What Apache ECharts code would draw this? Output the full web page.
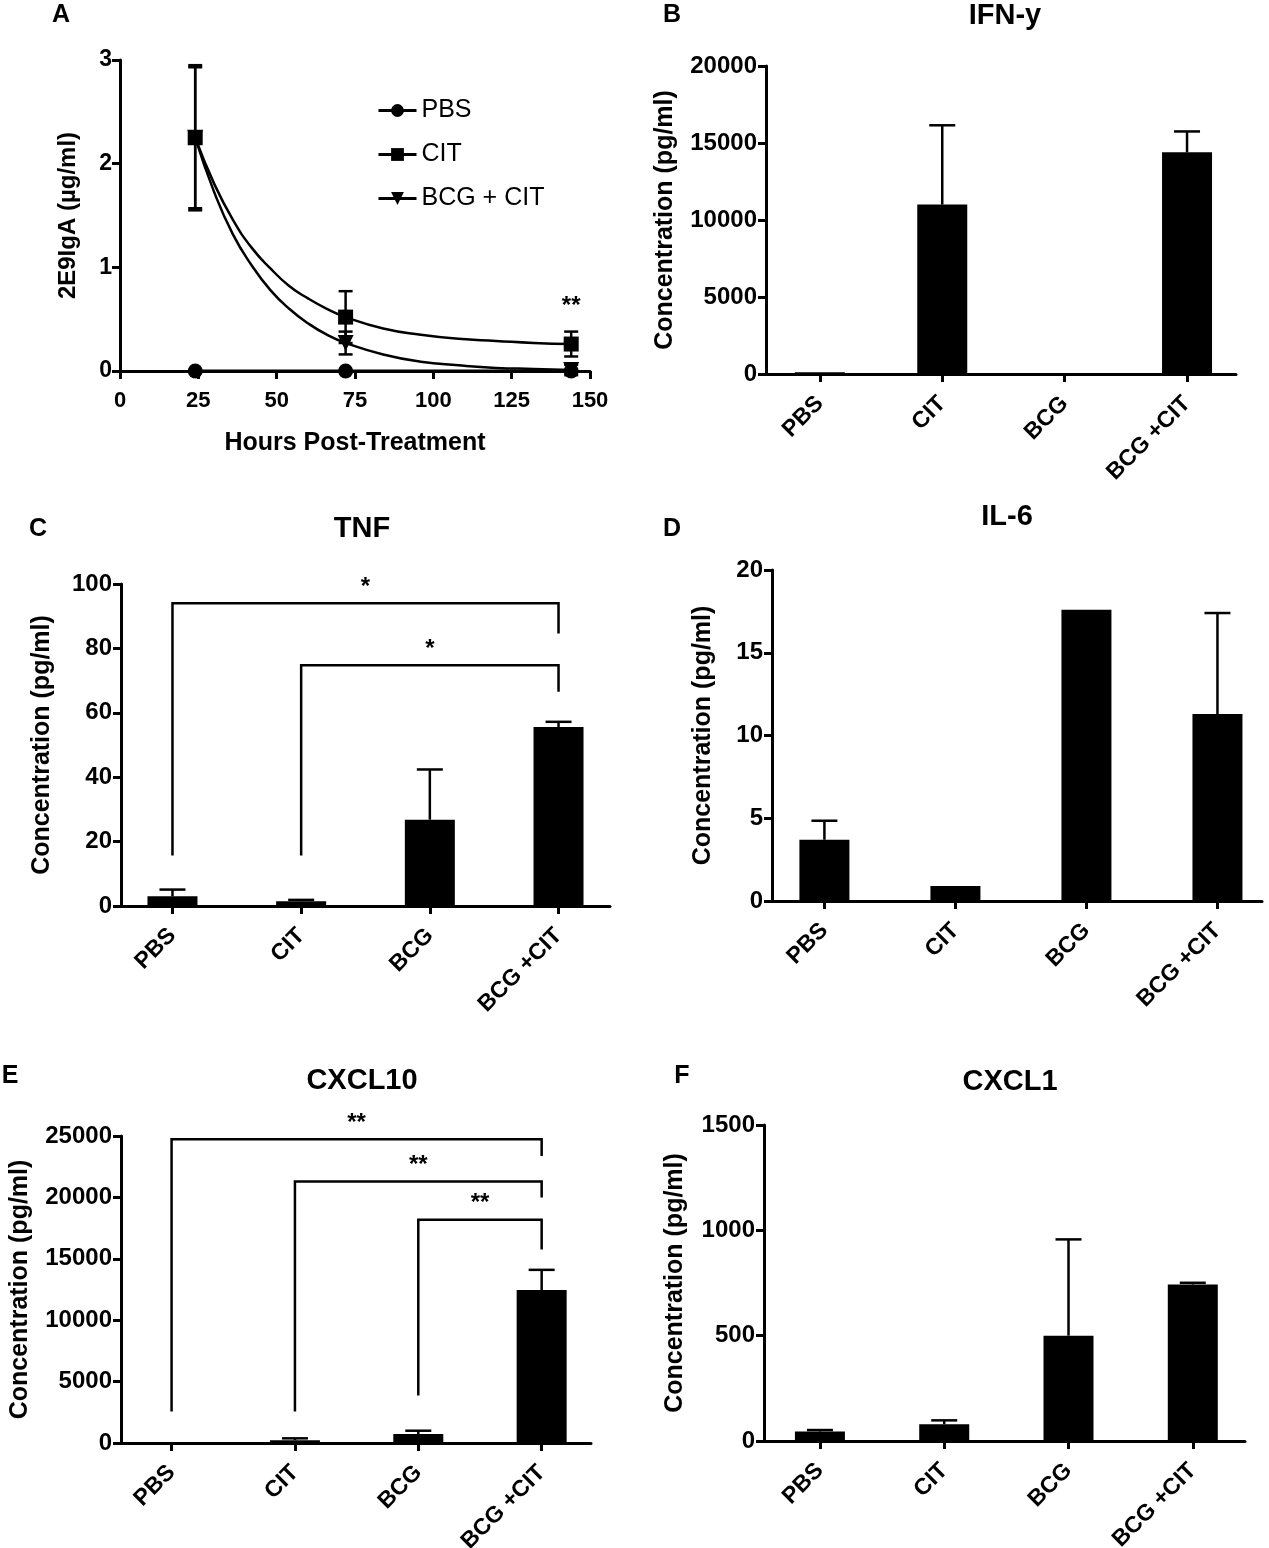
<!DOCTYPE html>
<html lang="en">
<head>
<meta charset="UTF-8">
<title>Cytokines after CIT</title>
<script src="https://cdn.jsdelivr.net/npm/echarts@6/dist/echarts.min.js"></script>
<style>html,body{margin:0;padding:0;background:#fff;}</style>
</head>
<body>
<div id="main" style="width:1269px;height:1548px;"></div>
<script>
var FONT = '"Liberation Sans", Arial, Helvetica, sans-serif';

// ---- panel A: 2E9IgA over time ----
var hours = [24, 72, 144];
var pbsIgA = [0, 0, 0];
var citIgA = [2.25, 0.52, 0.26];
var citIgAErr = [0.68, 0.25, 0.12];
var bcgCitIgA = [2.25, 0.27, 0.01];
var bcgCitIgAErr = [0.70, 0.11, 0.05];
// decay fits
var fitHours = [24, 30, 36, 42, 48, 54, 60, 66, 72, 84, 96, 108, 120, 132, 144];
var citFit = [2.25, 1.81, 1.46, 1.19, 0.99, 0.82, 0.70, 0.60, 0.52, 0.41, 0.35, 0.31, 0.29, 0.27, 0.26];
var bcgCitFit = [2.25, 1.73, 1.32, 1.02, 0.78, 0.60, 0.46, 0.35, 0.27, 0.16, 0.09, 0.055, 0.03, 0.02, 0.01];
var sigA = [[144, 0.62]];
var sigAText = ['**'];

// ---- panels B-F: cytokines ----
var groups = ['PBS', 'CIT', 'BCG', 'BCG +CIT'];
var ifng = [120, 11000, 0, 14400];
var ifngErr = [0, 5150, 0, 1350];
var tnf = [3.0, 1.5, 26.8, 55.6];
var tnfErr = [2.1, 0.4, 15.6, 1.6];
var il6 = [3.7, 0.9, 17.6, 11.3];
var il6Err = [1.15, 0, 0, 6.1];
var cxcl10 = [20, 230, 730, 12450];
var cxcl10Err = [0, 150, 270, 1650];
var cxcl1 = [45, 80, 500, 743];
var cxcl1Err = [7, 18, 457, 8];

// brackets: [from, to, top, left leg end, right leg end]
var tnfSig = [[0, 3, 94, 15.7, 84.6], [1, 3, 74.8, 15.7, 66.5]];
var tnfStars = ['*', '*'];
var cxcl10Sig = [[0, 3, 24730, 2575, 23375], [1, 3, 21290, 2575, 19990], [2, 3, 18180, 3875, 15760]];
var cxcl10Stars = ['**', '**', '**'];

var myChart = echarts.init(document.getElementById('main'));

var axisLineStyle = {color: '#000', width: 3};
var tickLabel = {color: '#000', fontFamily: FONT, fontWeight: 'bold', fontSize: 23,
    formatter: function (v) { return String(v); }};
var axisName = {color: '#000', fontFamily: FONT, fontWeight: 'bold', fontSize: 25};

var grids = [
    {left: 120, top: 60, width: 470, height: 311},
    {left: 766, top: 66, width: 470, height: 308},
    {left: 121, top: 584, width: 489, height: 322},
    {left: 772, top: 570, width: 490, height: 331},
    {left: 121, top: 1136, width: 470, height: 307},
    {left: 764, top: 1125, width: 481, height: 316}
].map(function (g) { g.outerBoundsMode = 'none'; g.containLabel = false; return g; });

function errRender(capHalf, both) {
    return function (params, api) {
        var x = api.value(0), lo = api.value(1), hi = api.value(2);
        if (hi <= lo) return null;
        var pLo = api.coord([x, lo]), pHi = api.coord([x, hi]);
        var st = {stroke: '#000', lineWidth: 2.5};
        var kids = [
            {type: 'line', shape: {x1: pLo[0], y1: pLo[1], x2: pHi[0], y2: pHi[1]}, style: st},
            {type: 'line', shape: {x1: pHi[0] - capHalf, y1: pHi[1], x2: pHi[0] + capHalf, y2: pHi[1]}, style: st}
        ];
        if (both) {
            kids.push({type: 'line', shape: {x1: pLo[0] - capHalf, y1: pLo[1], x2: pLo[0] + capHalf, y2: pLo[1]}, style: st});
        }
        return {type: 'group', children: kids};
    };
}

function bracketRender(sig, stars) {
    return function (params, api) {
        var s = sig[params.dataIndex];
        var a = api.coord([s[0], s[3]]), b = api.coord([s[0], s[2]]);
        var c = api.coord([s[1], s[2]]), d = api.coord([s[1], s[4]]);
        return {type: 'group', children: [
            {type: 'polyline', shape: {points: [a, b, c, d]}, style: {stroke: '#000', fill: 'none', lineWidth: 2.5}},
            {type: 'text', x: (b[0] + c[0]) / 2, y: b[1] - 16,
             style: {text: stars[params.dataIndex], fill: '#000', font: 'bold 24px ' + FONT, align: 'center', verticalAlign: 'middle'}}
        ]};
    };
}

function textRender(texts) {
    return function (params, api) {
        var p = api.coord([api.value(0), api.value(1)]);
        return {type: 'text', x: p[0], y: p[1],
            style: {text: texts[params.dataIndex], fill: '#000', font: 'bold 24px ' + FONT, align: 'center', verticalAlign: 'middle'}};
    };
}

var xAxes = [], yAxes = [], series = [];

// panel A axes
xAxes.push({
    gridIndex: 0, type: 'value', min: 0, max: 150, interval: 25,
    name: 'Hours Post-Treatment', nameLocation: 'middle', nameGap: 60, nameTextStyle: axisName,
    axisLine: {show: true, onZero: false, lineStyle: axisLineStyle},
    axisTick: {show: true, length: 8, lineStyle: axisLineStyle},
    axisLabel: Object.assign({}, tickLabel, {margin: 19, fontSize: 22}),
    splitLine: {show: false}
});
yAxes.push({
    gridIndex: 0, type: 'value', min: 0, max: 3, interval: 1,
    name: '2E9IgA (µg/ml)', nameLocation: 'middle', nameGap: 40, nameTextStyle: Object.assign({}, axisName, {fontSize: 24}),
    axisLine: {show: true, onZero: false, lineStyle: axisLineStyle},
    axisTick: {show: true, length: 8, lineStyle: axisLineStyle},
    axisLabel: Object.assign({}, tickLabel, {margin: 8}),
    splitLine: {show: false}
});

function pairs(xs, ys) { return xs.map(function (x, i) { return [x, ys[i]]; }); }
function errRows(xs, ys, es, both) {
    return xs.map(function (x, i) { return [x, both ? ys[i] - es[i] : ys[i], ys[i] + es[i]]; });
}

var downTri = 'path://M0,0 L10,0 L5,9 Z';
series.push(
    {name: 'CIT fit', type: 'line', xAxisIndex: 0, yAxisIndex: 0, data: pairs(fitHours, citFit), smooth: true,
     symbol: 'none', lineStyle: {color: '#000', width: 2.5}, z: 2, silent: true},
    {name: 'BCG + CIT fit', type: 'line', xAxisIndex: 0, yAxisIndex: 0, data: pairs(fitHours, bcgCitFit), smooth: true,
     symbol: 'none', lineStyle: {color: '#000', width: 2.5}, z: 2, silent: true},
    {name: 'CIT err', type: 'custom', xAxisIndex: 0, yAxisIndex: 0, renderItem: errRender(7, true),
     data: errRows(hours, citIgA, citIgAErr, true), z: 3, silent: true},
    {name: 'BCG + CIT err', type: 'custom', xAxisIndex: 0, yAxisIndex: 0, renderItem: errRender(7, true),
     data: errRows(hours, bcgCitIgA, bcgCitIgAErr, true), z: 3, silent: true},
    {name: 'PBS', type: 'line', xAxisIndex: 0, yAxisIndex: 0, data: pairs(hours, pbsIgA),
     symbol: 'circle', symbolSize: 15, itemStyle: {color: '#000'}, lineStyle: {color: '#000', width: 3}, z: 4},
    {name: 'BCG + CIT', type: 'line', xAxisIndex: 0, yAxisIndex: 0, data: pairs(hours, bcgCitIgA),
     symbol: downTri, symbolSize: 16, itemStyle: {color: '#000'}, lineStyle: {color: '#000', width: 3, opacity: 0}, z: 5},
    {name: 'CIT', type: 'line', xAxisIndex: 0, yAxisIndex: 0, data: pairs(hours, citIgA),
     symbol: 'rect', symbolSize: 15, itemStyle: {color: '#000'}, lineStyle: {color: '#000', width: 3, opacity: 0}, z: 6},
    {name: 'sigA', type: 'custom', xAxisIndex: 0, yAxisIndex: 0, renderItem: textRender(sigAText),
     data: sigA, clip: false, z: 7, silent: true}
);

// bar panels
var barPanels = [
    {values: ifng, errs: ifngErr, max: 20000, step: 5000, xMin: -0.44, xMax: 3.4, nameGap: 88},
    {values: tnf, errs: tnfErr, max: 100, step: 20, xMin: -0.40, xMax: 3.4, nameGap: 66, sig: tnfSig, stars: tnfStars},
    {values: il6, errs: il6Err, max: 20, step: 5, xMin: -0.40, xMax: 3.34, nameGap: 56},
    {values: cxcl10, errs: cxcl10Err, max: 25000, step: 5000, xMin: -0.41, xMax: 3.4, nameGap: 88, sig: cxcl10Sig, stars: cxcl10Stars},
    {values: cxcl1, errs: cxcl1Err, max: 1500, step: 500, xMin: -0.45, xMax: 3.42, nameGap: 76}
];
var idxs = [0, 1, 2, 3];

barPanels.forEach(function (p, k) {
    var g = k + 1;
    xAxes.push({
        gridIndex: g, type: 'value', min: p.xMin, max: p.xMax,
        axisLine: {show: true, onZero: false, lineStyle: axisLineStyle},
        axisTick: {show: true, length: 8, customValues: idxs, lineStyle: axisLineStyle},
        axisLabel: Object.assign({}, tickLabel, {customValues: idxs, rotate: 45, margin: 26, fontSize: 23,
            formatter: function (v) { return groups[Math.round(v)]; }}),
        splitLine: {show: false}
    });
    yAxes.push({
        gridIndex: g, type: 'value', min: 0, max: p.max, interval: p.step,
        name: 'Concentration (pg/ml)', nameLocation: 'middle', nameGap: p.nameGap, nameTextStyle: axisName,
        axisLine: {show: true, onZero: false, lineStyle: axisLineStyle},
        axisTick: {show: true, length: 8, lineStyle: axisLineStyle},
        axisLabel: Object.assign({}, tickLabel, {margin: 9, fontSize: 24}),
        splitLine: {show: false}
    });
    series.push({
        type: 'bar', xAxisIndex: g, yAxisIndex: g, barWidth: 50,
        data: pairs(idxs, p.values), itemStyle: {color: '#000'}, silent: true
    });
    series.push({
        type: 'custom', xAxisIndex: g, yAxisIndex: g, renderItem: errRender(13, false),
        data: errRows(idxs, p.values, p.errs, false), z: 3, silent: true
    });
    if (p.sig) {
        series.push({
            type: 'custom', xAxisIndex: g, yAxisIndex: g, renderItem: bracketRender(p.sig, p.stars),
            data: p.sig.map(function (s) { return [s[0], s[2]]; }), clip: false, z: 4, silent: true
        });
    }
});

function ttl(text, x, y, size) {
    return {text: text, left: x, top: y, textAlign: 'center', padding: 0,
        textStyle: {color: '#000', fontFamily: FONT, fontWeight: 'bold', fontSize: size}};
}

var option = {
    animation: false,
    backgroundColor: '#fff',
    title: [
        ttl('A', 61, 3, 25), ttl('B', 672, 3, 25), ttl('C', 38, 517, 25),
        ttl('D', 672, 517, 25), ttl('E', 10, 1064, 25), ttl('F', 682, 1064, 25),
        ttl('IFN-y', 1005, 1, 29), ttl('TNF', 362, 514, 29), ttl('IL-6', 1007, 502, 29),
        ttl('CXCL10', 362, 1066, 29), ttl('CXCL1', 1010, 1067, 29)
    ],
    legend: {
        data: ['PBS', 'CIT', 'BCG + CIT'],
        orient: 'vertical', left: 372, top: 93, itemGap: 19, itemWidth: 38, itemHeight: 16,
        selectedMode: false,
        textStyle: {color: '#000', fontFamily: FONT, fontSize: 25},
        itemStyle: {color: '#000', borderWidth: 0},
        lineStyle: {color: '#000', width: 3, opacity: 1}
    },
    grid: grids,
    xAxis: xAxes,
    yAxis: yAxes,
    series: series
};

myChart.setOption(option);
</script>
</body>
</html>
